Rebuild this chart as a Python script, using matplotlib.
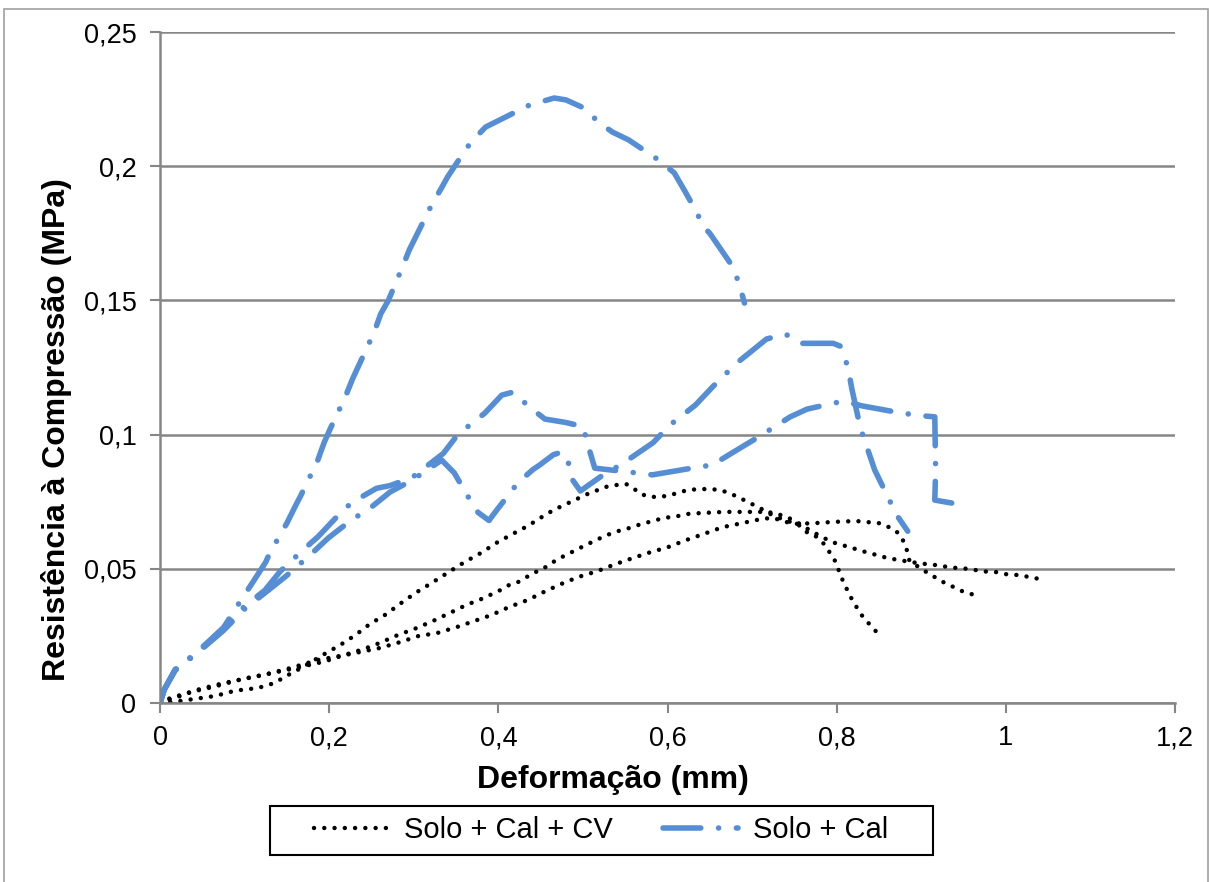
import matplotlib as mpl
import matplotlib.pyplot as plt
from matplotlib.patches import Rectangle
from matplotlib.ticker import FuncFormatter

mpl.rcParams.update({'font.family': ['Liberation Sans', 'DejaVu Sans']})

# Solo + Cal + CV (three specimens)
cv1_x = [0, 0.016, 0.065, 0.089, 0.116, 0.136, 0.145, 0.156, 0.169, 0.193, 0.213, 0.231, 0.248,
         0.267, 0.284, 0.302, 0.321, 0.34, 0.36, 0.38, 0.398, 0.417, 0.435, 0.455, 0.466, 0.486,
         0.505, 0.527, 0.539, 0.551, 0.56, 0.567, 0.579, 0.592, 0.604, 0.615, 0.625, 0.638, 0.65,
         0.662, 0.673, 0.683, 0.7, 0.709, 0.719, 0.729, 0.745, 0.757, 0.767, 0.776, 0.784, 0.792,
         0.798, 0.803, 0.808, 0.813, 0.819, 0.825, 0.832, 0.843, 0.849]
cv1_y = [0, 0.0004, 0.0026, 0.0046, 0.0056, 0.0075, 0.0093, 0.0112, 0.0134, 0.018, 0.0216, 0.0253,
         0.0294, 0.033, 0.037, 0.041, 0.0447, 0.0485, 0.0525, 0.056, 0.0597, 0.063, 0.066, 0.07,
         0.072, 0.075, 0.0778, 0.0805, 0.0812, 0.0816, 0.08, 0.078, 0.0768, 0.0768, 0.0775, 0.0786,
         0.0794, 0.0797, 0.0797, 0.0794, 0.0782, 0.0768, 0.0741, 0.0727, 0.0708, 0.0693, 0.0675,
         0.066, 0.063, 0.062, 0.0596, 0.056, 0.053, 0.049, 0.045, 0.0418, 0.038, 0.035, 0.0316,
         0.028, 0.0257]

cv2_x = [0, 0.012, 0.035, 0.063, 0.098, 0.13, 0.166, 0.195, 0.219, 0.24, 0.26, 0.281, 0.304, 0.323,
         0.343, 0.362, 0.382, 0.402, 0.413, 0.423, 0.442, 0.453, 0.462, 0.473, 0.482, 0.492, 0.501,
         0.511, 0.521, 0.532, 0.541, 0.553, 0.562, 0.573, 0.585, 0.596, 0.609, 0.622, 0.641, 0.668,
         0.695, 0.717, 0.725, 0.74, 0.755, 0.77, 0.782, 0.794, 0.806, 0.818, 0.826, 0.837, 0.849,
         0.86, 0.873, 0.888, 0.905, 0.917, 0.931, 0.942, 0.955, 0.975, 0.988, 1.0, 1.013, 1.027,
         1.046]
cv2_y = [0, 0.0018, 0.004, 0.006, 0.009, 0.011, 0.0134, 0.0155, 0.018, 0.02, 0.0224, 0.0253, 0.028,
         0.0306, 0.0336, 0.0365, 0.039, 0.042, 0.044, 0.045, 0.0485, 0.05, 0.052, 0.054, 0.0555,
         0.057, 0.0585, 0.06, 0.0615, 0.063, 0.064, 0.065, 0.066, 0.067, 0.068, 0.069, 0.0694,
         0.0704, 0.0708, 0.0712, 0.0712, 0.0712, 0.0708, 0.0695, 0.067, 0.064, 0.062, 0.06, 0.0589,
         0.0578, 0.057, 0.056, 0.055, 0.054, 0.0533, 0.0525, 0.0518, 0.0514, 0.0507, 0.0503, 0.05,
         0.049, 0.0488, 0.048, 0.0477, 0.047, 0.0458]

cv3_x = [0, 0.024, 0.047, 0.075, 0.098, 0.122, 0.154, 0.186, 0.221, 0.26, 0.284, 0.306, 0.327,
         0.351, 0.372, 0.392, 0.413, 0.435, 0.454, 0.474, 0.495, 0.516, 0.538, 0.559, 0.578, 0.6,
         0.622, 0.643, 0.665, 0.688, 0.71, 0.724, 0.735, 0.748, 0.773, 0.798, 0.823, 0.85, 0.866,
         0.874, 0.88, 0.884, 0.886, 0.9, 0.91, 0.921, 0.93, 0.94, 0.95, 0.959, 0.971]
cv3_y = [0, 0.0026, 0.0052, 0.0074, 0.0089, 0.0104, 0.013, 0.016, 0.018, 0.0205, 0.0227, 0.025,
         0.026, 0.0283, 0.0306, 0.0328, 0.0358, 0.0384, 0.0414, 0.0443, 0.047, 0.049, 0.0517,
         0.054, 0.056, 0.058, 0.0607, 0.063, 0.0655, 0.067, 0.0685, 0.069, 0.068, 0.0667, 0.067,
         0.0675, 0.0678, 0.067, 0.065, 0.063, 0.0597, 0.056, 0.053, 0.05, 0.048, 0.046, 0.0443,
         0.043, 0.0414, 0.0406, 0.0395]

# Solo + Cal (three specimens)
cal1_x = [0, 0.005, 0.018, 0.044, 0.075, 0.091, 0.113, 0.125, 0.13, 0.15, 0.161, 0.166, 0.186,
          0.194, 0.201, 0.219, 0.228, 0.253, 0.261, 0.27, 0.286, 0.295, 0.321, 0.333, 0.34, 0.363,
          0.377, 0.385, 0.418, 0.437, 0.466, 0.48, 0.501, 0.52, 0.535, 0.554, 0.591, 0.608, 0.62,
          0.633, 0.643, 0.65, 0.674, 0.684, 0.691]
cal1_y = [0, 0.005, 0.0125, 0.019, 0.028, 0.036, 0.0466, 0.0525, 0.056, 0.067, 0.074, 0.077, 0.09,
          0.097, 0.102, 0.114, 0.121, 0.138, 0.145, 0.15, 0.162, 0.169, 0.1855, 0.192, 0.196,
          0.207, 0.212, 0.2146, 0.2198, 0.2228, 0.2254, 0.2247, 0.2217, 0.216, 0.2127, 0.2098,
          0.202, 0.1975, 0.191, 0.1837, 0.1773, 0.175, 0.164, 0.157, 0.149]

cal2_x = [0, 0.005, 0.018, 0.044, 0.075, 0.1, 0.124, 0.148, 0.177, 0.199, 0.228, 0.246, 0.272,
          0.298, 0.333, 0.348, 0.362, 0.376, 0.389, 0.396, 0.423, 0.441, 0.449, 0.465, 0.475,
          0.482, 0.488, 0.497, 0.524, 0.546, 0.583, 0.603, 0.633, 0.654, 0.682, 0.699, 0.717,
          0.739, 0.759, 0.78, 0.796, 0.804, 0.813, 0.818, 0.828, 0.845, 0.871, 0.884]
cal2_y = [0, 0.005, 0.0122, 0.0186, 0.027, 0.035, 0.041, 0.047, 0.055, 0.0615, 0.0686, 0.072,
          0.0786, 0.083, 0.0905, 0.0857, 0.078, 0.071, 0.068, 0.071, 0.082, 0.087, 0.0887, 0.0925,
          0.0935, 0.0905, 0.083, 0.079, 0.085, 0.089, 0.097, 0.1036, 0.111, 0.118, 0.1267, 0.131,
          0.1356, 0.1375, 0.134, 0.134, 0.134, 0.133, 0.1255, 0.117, 0.1025, 0.0868, 0.07, 0.064]

cal3_x = [0, 0.005, 0.018, 0.044, 0.075, 0.1, 0.124, 0.142, 0.169, 0.187, 0.219, 0.234, 0.256,
          0.272, 0.298, 0.335, 0.352, 0.384, 0.404, 0.417, 0.438, 0.455, 0.48, 0.5, 0.507, 0.514,
          0.556, 0.582, 0.629, 0.653, 0.688, 0.707, 0.745, 0.765, 0.808, 0.83, 0.877, 0.902, 0.916,
          0.917, 0.916, 0.936]
cal3_y = [0, 0.005, 0.0124, 0.0188, 0.028, 0.036, 0.042, 0.049, 0.057, 0.062, 0.0727, 0.076, 0.08,
          0.081, 0.084, 0.093, 0.1, 0.108, 0.1147, 0.1158, 0.11, 0.1058, 0.1045, 0.103, 0.095,
          0.0875, 0.086, 0.085, 0.0875, 0.0887, 0.0954, 0.099, 0.1066, 0.1095, 0.1125, 0.1107,
          0.108, 0.107, 0.1066, 0.087, 0.0756, 0.0745]

blue = '#558ED5'
grid = '#868686'
dot = (0, (0.01, 2.3))
dashdot = (0, (6.8, 3.2, 0.01, 3.2))

W, H = 1209, 882
fig = plt.figure(figsize=(W / 100, H / 100), dpi=100)
ax = fig.add_axes([160 / W, 1 - 703 / H, (1175 - 160) / W, (703 - 32) / H])

kw_cv = dict(color='black', lw=3.2, ls=dot, dash_capstyle='round', solid_capstyle='round')
kw_cal = dict(color=blue, lw=4.0, ls=dashdot, dash_capstyle='round', solid_capstyle='round')

ax.plot(cv1_x, cv1_y, label='Solo + Cal + CV', **kw_cv)
ax.plot(cv2_x, cv2_y, **kw_cv)
ax.plot(cv3_x, cv3_y, **kw_cv)
ax.plot(cal1_x, cal1_y, label='Solo + Cal', **kw_cal)
ax.plot(cal2_x, cal2_y, **kw_cal)
ax.plot(cal3_x, cal3_y, **kw_cal)

ax.set_xlim(0, 1.2)
ax.set_ylim(0, 0.25)
ax.set_xticks([0, 0.2, 0.4, 0.6, 0.8, 1.0, 1.2])
ax.set_yticks([0, 0.05, 0.1, 0.15, 0.2, 0.25])
fmt = FuncFormatter(lambda v, p: ('%g' % round(v, 3)).replace('.', ','))
ax.xaxis.set_major_formatter(fmt)
ax.yaxis.set_major_formatter(fmt)
ax.yaxis.grid(True, color=grid, lw=1.8)
ax.set_axisbelow(True)
for s in ['top', 'right']:
    ax.spines[s].set_visible(False)
for s in ['left', 'bottom']:
    ax.spines[s].set_color(grid)
    ax.spines[s].set_linewidth(1.8)
ax.tick_params(direction='out', length=7, width=1.5, color=grid, labelsize=19.5)
ax.tick_params(axis='x', pad=9)
ax.tick_params(axis='y', pad=10)

fig.text(57 / W, 1 - 430 / H, 'Resistência à Compressão (MPa)', rotation=90,
         ha='center', va='center', fontsize=23, fontweight='bold')
fig.text(613 / W, 1 - 780 / H, 'Deformação (mm)', ha='center', va='center',
         fontsize=23, fontweight='bold')

fig.legend(loc='center', bbox_to_anchor=(601 / W, 1 - 830 / H), ncol=2, fontsize=21,
           frameon=False, handlelength=2.6, columnspacing=1.7, handletextpad=0.5)
# legend frame, wider than the entries as in the original
fig.patches.append(Rectangle((270 / W, 1 - 855 / H), (933 - 270) / W, (855 - 806) / H,
                             transform=fig.transFigure, fill=False, edgecolor='black', lw=1.5))

fig.patches.append(Rectangle((4 / W, -0.01), 1 - 5.5 / W, 1.0, transform=fig.transFigure,
                             fill=False, edgecolor='#A0A0A0', lw=1.2))

fig.savefig('out.png', dpi=100)
